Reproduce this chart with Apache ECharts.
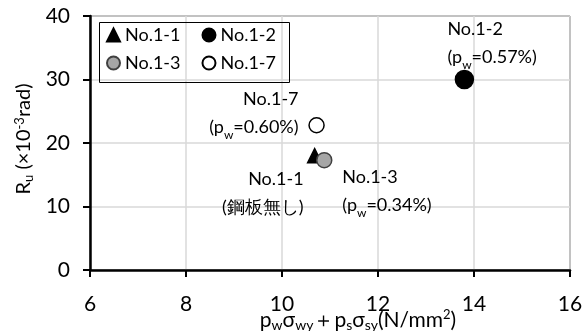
<!DOCTYPE html>
<html><head><meta charset="utf-8">
<script src="https://cdn.jsdelivr.net/npm/echarts@6/dist/echarts.min.js"></script>
<style>html,body{margin:0;padding:0;background:#fff}#c{width:583px;height:331px}</style>
</head><body><div id="c"></div>
<script>
const specimens = ['No.1-1', 'No.1-2', 'No.1-3', 'No.1-7'];
const xValues = [10.68, 13.8, 10.88, 10.72];
const yValues = [18.0, 30.0, 17.3, 22.8];
const notes = ['(鋼板無し)', '(p{s|w}=0.57%)', '(p{s|w}=0.34%)', '(p{s|w}=0.60%)'];
const xTicks = [6, 8, 10, 12, 14, 16];
const yTicks = [0, 10, 20, 30, 40];

const FONT = 'Lato';
const symbols = ['triangle', 'circle', 'circle', 'circle'];
const sizes = [14, 18, 15, 15];
const fills = ['#000', '#000', '#a6a6a6', '#fff'];
const borders = ['#000', '#000', '#404040', '#000'];
const labelPos = [
  {offset: [-11, 37], align: 'right'},
  {offset: [-17, -36], align: 'left'},
  {offset: [18, 31], align: 'left'},
  {offset: [-18, -12], align: 'right'}
];
const rich = {s: {fontSize: 12, fontFamily: FONT, color: '#000', verticalAlign: 'bottom', lineHeight: 21}};

const chart = echarts.init(document.getElementById('c'), null, {renderer: 'canvas'});
chart.setOption({
  animation: false,
  grid: {left: 90, right: 13, top: 16, bottom: 61, outerBoundsMode: 'none', containLabel: false,
         show: true, borderColor: '#000', borderWidth: 1, backgroundColor: 'transparent'},
  legend: [
    {data: [specimens[0], specimens[1]], left: 106, top: 26, itemWidth: 13, itemHeight: 13, itemGap: 21,
     textStyle: {fontFamily: FONT, fontSize: 18, color: '#000'}, padding: 0},
    {data: [specimens[2], specimens[3]], left: 106, top: 54, itemWidth: 13, itemHeight: 13, itemGap: 21,
     textStyle: {fontFamily: FONT, fontSize: 18, color: '#000'}, padding: 0}
  ],
  graphic: [{type: 'rect', left: 97, top: 20, shape: {width: 190, height: 60}, style: {fill: 'none', stroke: '#000', lineWidth: 1}, z: 10}],
  xAxis: {
    type: 'value', min: xTicks[0], max: xTicks[xTicks.length - 1], interval: 2,
    axisLine: {lineStyle: {color: '#000', width: 2.5}},
    axisTick: {show: true, length: 7, lineStyle: {color: '#000', width: 2}},
    axisLabel: {fontFamily: FONT, fontSize: 21, color: '#000', margin: 24},
    splitLine: {lineStyle: {color: '#d9d9d9', width: 1.5}},
    name: 'p{s|w}σ{s|wy}＋p{s|s}σ{s|sy}(N/mm{p|2})',
    nameLocation: 'middle', nameGap: 38, nameMoveOverlap: false,
    nameTextStyle: {fontFamily: FONT, fontSize: 21, color: '#000', padding: [0, 0, 0, 56],
      rich: {s: {fontSize: 14, fontFamily: FONT, color: '#000', verticalAlign: 'bottom', lineHeight: 24},
             p: {fontSize: 13, fontFamily: FONT, color: '#000', verticalAlign: 'top', lineHeight: 22}}}
  },
  yAxis: {
    type: 'value', min: yTicks[0], max: yTicks[yTicks.length - 1], interval: 10,
    axisLine: {show: true, lineStyle: {color: '#000', width: 2.5}},
    axisTick: {show: true, length: 7, lineStyle: {color: '#000', width: 2}},
    axisLabel: {fontFamily: FONT, fontSize: 21, color: '#000', margin: 20},
    splitLine: {lineStyle: {color: '#d9d9d9', width: 1.5}},
    name: 'R{s|u} (×10{p|-3}rad)',
    nameLocation: 'middle', nameGap: 55, nameRotate: 90, nameMoveOverlap: false,
    nameTextStyle: {fontFamily: FONT, fontSize: 20, color: '#000', padding: [0, 0, 0, 8],
      rich: {s: {fontSize: 13, fontFamily: FONT, color: '#000', verticalAlign: 'bottom', lineHeight: 22},
             p: {fontSize: 13, fontFamily: FONT, color: '#000', verticalAlign: 'top', lineHeight: 20}}}
  },
  series: specimens.map((name, i) => ({
    name: name, type: 'scatter', symbol: symbols[i], symbolSize: sizes[i],
    itemStyle: {color: fills[i], borderColor: borders[i], borderWidth: 1.5, opacity: 1},
    data: [[xValues[i], yValues[i]]],
    label: {
      show: true, position: 'inside', offset: labelPos[i].offset, align: labelPos[i].align, verticalAlign: 'middle',
      formatter: name + '\n' + notes[i],
      fontFamily: FONT, fontSize: 18, color: '#000', lineHeight: 28, rich: rich
    },
    z: 3 + i
  }))
});
</script></body></html>
